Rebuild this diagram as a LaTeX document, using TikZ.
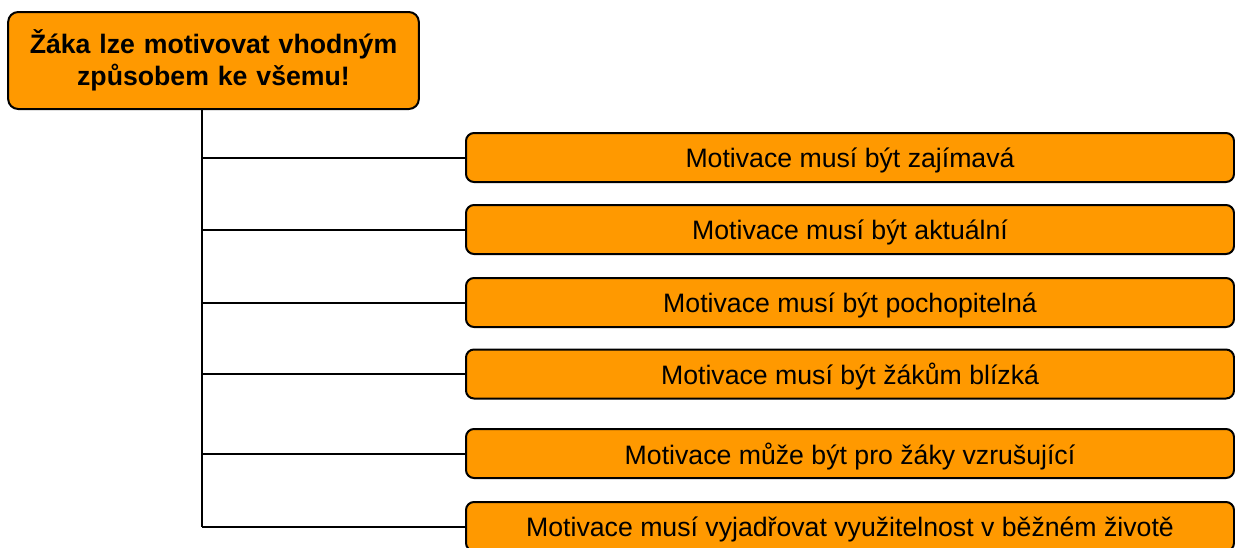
\documentclass[tikz,border=0pt]{standalone}
\usepackage{fontspec}
\setmainfont{Liberation Sans}
\definecolor{motorange}{HTML}{FF9900}
\tikzset{
  headbox/.style={draw, line width=1.5pt, fill=motorange, rounded corners=7.5pt,
    minimum width=308pt, minimum height=72.75pt, text width=300pt, align=center,
    inner sep=0pt, font=\fontsize{20}{24}\selectfont\bfseries},
  itembox/.style={draw, line width=1.5pt, fill=motorange, rounded corners=6pt,
    minimum width=576pt, minimum height=36.75pt, inner sep=0pt, text depth=0pt,
    font=\fontsize{20}{24}\selectfont},
  branch/.style={line width=1.5pt}
}
\begin{document}
\begin{tikzpicture}[x=0.75pt,y=-0.75pt]
  \useasboundingbox (0,0) rectangle (1235,547);
  \node[headbox] (root) at (213.5,60.5) {Žáka lze motivovat vhodným\\způsobem ke všemu!};
  \foreach \y/\n/\t in {157.5/1/Motivace musí být zajímavá,
                        229.5/2/Motivace musí být aktuální,
                        302.5/3/Motivace musí být pochopitelná,
                        374/4/Motivace musí být žákům blízká,
                        453.5/5/Motivace může být pro žáky vzrušující,
                        526.5/6/Motivace musí vyjadřovat využitelnost v běžném životě} {
    \node[itembox] (m\n) at (850,\y) {\t};
    \coordinate (j\n) at (202,\y);
    \draw[branch] (j\n) -- (m\n);
  }
  \draw[branch] (root.south -| j6) -- (j6);
\end{tikzpicture}
\end{document}
